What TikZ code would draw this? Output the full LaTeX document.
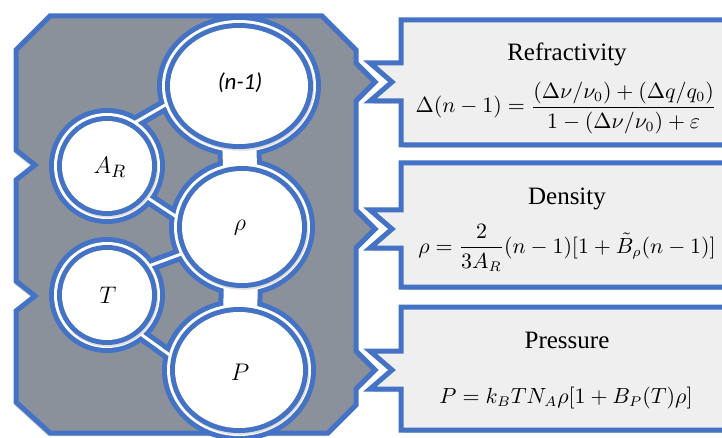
\documentclass[tikz,border=0pt]{standalone}
\usepackage{amsmath,amssymb}
\usepackage{fontspec}
\setmainfont{Liberation Serif}
\newfontfamily\timesfont{Liberation Serif}
\newfontfamily\calibrifont{Carlito}
\usetikzlibrary{shadows}
\definecolor{ofblue}{HTML}{4472C4}
\definecolor{panelgray}{HTML}{8A919B}
\definecolor{boxgray}{HTML}{EFEFEF}

\begin{document}
\begin{tikzpicture}[x=0.5pt, y=-0.5pt, line join=miter,
    frame/.style={draw=ofblue, line width=2.5pt},
    eqbox/.style={frame, fill=boxgray, drop shadow={shadow xshift=1.5pt, shadow yshift=-1.5pt, opacity=0.3}},
    title/.style={anchor=base, inner sep=0pt, font=\timesfont\fontsize{12.5}{15}\selectfont},
    eq/.style={anchor=base, inner sep=0pt, font=\fontsize{10.5}{13}\selectfont},
    lbl/.style={font=\fontsize{12.5}{14}\selectfont}]
  \def\circlist{NM/239/86/69/58, RHO/242/227/60/56, PR/239/370/64/58, AR/107/166/45/45, TT/107/295/45/45}
  \def\bridges{127/127/181/96, 134/189/189/225, 135/271/195/249, 128/325/185/366}
  \useasboundingbox (0,0) rectangle (722,438);
  \fill[white] (0,0) rectangle (722,438);
  \clip (0,0) rectangle (722,438);
  %
  \foreach \top/\bot/\tip in {20/145/82, 163/287/229, 307/430/370} {
    \draw[eqbox] (740,\top) -- (401,\top) -- (401,\tip-19) -- (370,\tip-19) -- (392,\tip)
      -- (370,\tip+19) -- (401,\tip+19) -- (401,\bot) -- (740,\bot) -- cycle;
  }
  %
  \draw[frame, fill=panelgray, drop shadow={shadow xshift=-1pt, shadow yshift=-1.5pt, opacity=0.3}]
    (50,16) -- (322,16) -- (356,50) -- (356,63) -- (375,82) -- (356,101) -- (356,210)
    -- (375,229) -- (356,248) -- (356,351) -- (375,370) -- (356,389) -- (356,405)
    -- (328,433) -- (50,433) -- (16,402) -- (16,311) -- (35,296) -- (16,281)
    -- (16,180) -- (35,165) -- (16,150) -- (16,50) -- cycle;
  %
  \foreach \n/\cx/\cy/\rx/\ry in \circlist {
    \coordinate (\n) at (\cx,\cy);
    \fill[ofblue] (\n) ellipse [x radius=\rx+13, y radius=\ry+13];
  }
  \foreach \ax/\ay/\bx/\by in \bridges {
    \draw[ofblue, line width=6.5pt] (\ax,\ay) -- (\bx,\by);
  }
  \draw[ofblue, line width=22pt] (NM) ++(0,50) coordinate (neckA) -- (RHO) coordinate (neckB);
  \draw[ofblue, line width=22pt] (RHO) -- (PR);
  %
  \foreach \n/\cx/\cy/\rx/\ry in \circlist {
    \fill[white] (\n) ellipse [x radius=\rx+8, y radius=\ry+8];
  }
  \foreach \ax/\ay/\bx/\by in \bridges {
    \draw[white, line width=1.5pt] (\ax,\ay) -- (\bx,\by);
  }
  \draw[white, line width=17pt] (neckA) -- (neckB);
  \draw[white, line width=17pt] (RHO) -- (PR);
  %
  \foreach \n/\cx/\cy/\rx/\ry in \circlist {
    \fill[ofblue, drop shadow={shadow xshift=0.6pt, shadow yshift=-0.9pt, opacity=0.25}]
      (\n) ellipse [x radius=\rx+5, y radius=\ry+5];
    \fill[white] (\n) ellipse [x radius=\rx, y radius=\ry];
  }
  %
  \node[lbl, font=\calibrifont\itshape\fontsize{11.5}{13}\selectfont] (nmlabel) at (240,83) {(n-1)};
  \node[lbl] (rholabel) at (240,228) {$\rho$};
  \node[lbl] (prlabel) at (240,372) {$P$};
  \node[lbl] (arlabel) at (110,167) {$A_R$};
  \node[lbl] (ttlabel) at (108,295) {$T$};
  %
  \node[title] (reftitle) at (567,61) {Refractivity};
  \node[eq] (refeq) at (566,113) {$\displaystyle\Delta(n-1)=\frac{(\Delta\nu/\nu_0)+(\Delta q/q_0)}{1-(\Delta\nu/\nu_0)+\varepsilon}$};
  \node[title] (dentitle) at (567,205) {Density};
  \node[eq] (deneq) at (567,253) {$\displaystyle\rho=\frac{2}{3A_R}(n-1)[1+\tilde{B}_\rho(n-1)]$};
  \node[title] (prtitle) at (567,348) {Pressure};
  \node[eq] (preq) at (566,403) {$P=k_BTN_A\rho[1+B_P(T)\rho]$};
\end{tikzpicture}
\end{document}
